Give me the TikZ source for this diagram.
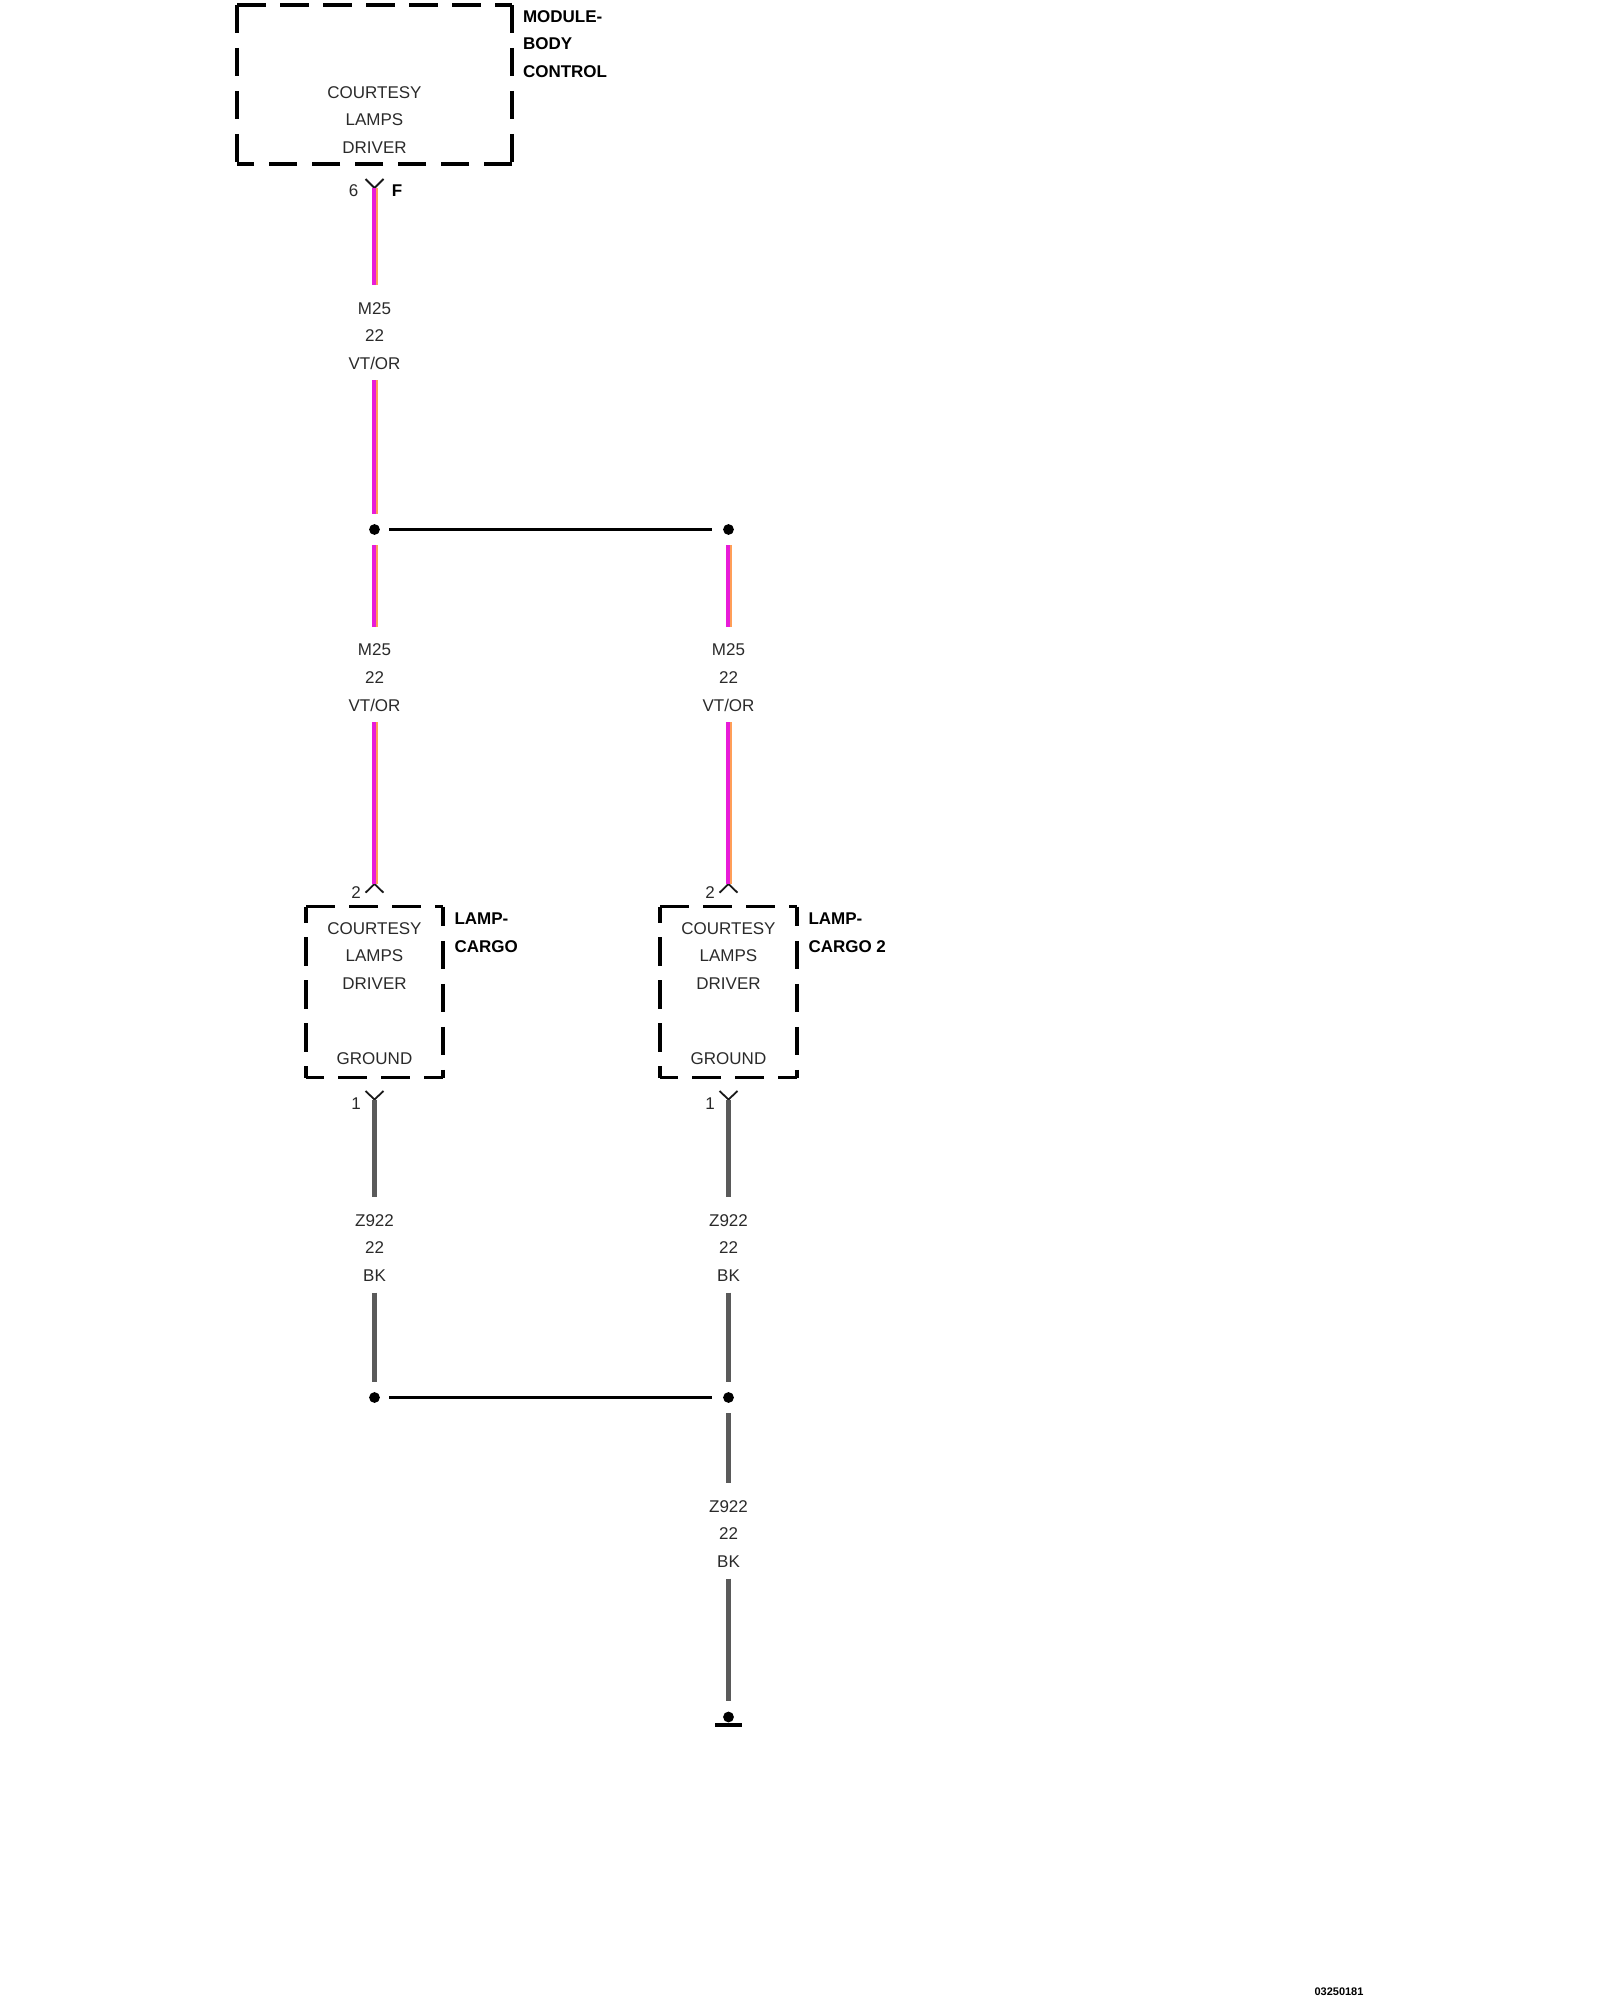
\documentclass[tikz,border=0pt]{standalone}
\usepackage{fontspec}
\setmainfont{Liberation Sans}
\definecolor{txtgray}{HTML}{2A2A2A}
\definecolor{wireviolet}{HTML}{E81CD8}
\definecolor{wireorange}{HTML}{FF9E58}
\definecolor{wireblack}{HTML}{5A5A5A}
\tikzset{
  box side/.style={line width=1.75pt,draw=black,dash pattern=on 14.25pt off 7.25pt,line cap=butt},
  plain text/.style={font=\fontsize{8.5}{13.85}\selectfont,text=txtgray,align=center,inner sep=0pt,outer sep=0pt},
  title text/.style={font=\bfseries\fontsize{8.5}{13.85}\selectfont,text=black,align=left,inner sep=0pt,outer sep=0pt,anchor=west},
  pin text/.style={font=\fontsize{8.5}{10}\selectfont,text=txtgray,inner sep=0pt,outer sep=0pt},
  wire label/.style={plain text,minimum height=44.5pt,minimum width=30pt},
  junction/.style={circle,fill=black,inner sep=0pt,minimum size=5.4pt,outer sep=0pt},
  violet core/.style={line width=2pt,draw=wireviolet,transform canvas={xshift=-0.25pt}},
  orange stripe/.style={line width=1.2pt,draw=wireorange,transform canvas={xshift=1.1pt}},
  black wire/.style={line width=2.85pt,draw=wireblack},
  thin link/.style={line width=1.05pt,draw=black},
  pin mark/.style={line width=0.9pt,draw=black!90},
  label top/.style={shorten >=3.25pt},
  from junction/.style={shorten <=5.1pt},
  to junction/.style={shorten >=5.1pt},
}
\newcommand{\vtwire}[3]{%
  \draw[orange stripe,#1] (#2) -- (#3);
  \draw[violet core,#1] (#2) -- (#3);
}
\begin{document}
\begin{tikzpicture}[x=0.5pt,y=-0.5pt]
\useasboundingbox (0,0) rectangle (1600,2000);
% module box
\coordinate (mTL) at (237,5); \coordinate (mTR) at (512,5);
\coordinate (mBL) at (237,164); \coordinate (mBR) at (512,164);
\draw[box side] (mTL) -- (mTR);
\draw[box side] (mTL) -- (mBL);
\draw[box side] (mTR) -- (mBR);
\draw[box side] (mBR) -- (mBL);
\node[plain text] (mInner) at (374.5,120) {COURTESY\\LAMPS\\DRIVER};
\node[title text] (mTitle) at (523,44) {MODULE-\\BODY\\CONTROL};
% cargo boxes
\foreach \b/\dx in {a/0,b/354}{
  \coordinate (\b TL) at (306+\dx,906.7); \coordinate (\b TR) at (443+\dx,906.7);
  \coordinate (\b BL) at (306+\dx,1077.5); \coordinate (\b BR) at (443+\dx,1077.5);
  \draw[box side] (\b TL) -- (\b TR);
  \draw[box side,dash phase=6.2pt] (\b TL) -- (\b BL);
  \draw[box side,dash phase=4.4pt] (\b TR) -- (\b BR);
  \draw[box side,dash phase=5.5pt] (\b BL) -- (\b BR);
  \node[plain text] (\b Inner) at (374.5+\dx,956) {COURTESY\\LAMPS\\DRIVER};
  \node[plain text] (\b Ground) at (374.5+\dx,1058.5) {GROUND};
  \node[pin text] (\b TopPin) at (356+\dx,892.5) {2};
  \node[pin text] (\b BotPin) at (356+\dx,1103.5) {1};
  \coordinate (\b TopApex) at (374.5+\dx,884);
  \coordinate (\b TopL) at (365.5+\dx,892.7); \coordinate (\b TopR) at (383.5+\dx,892.7);
  \draw[pin mark] (\b TopL) -- (\b TopApex) -- (\b TopR);
  \coordinate (\b BotApex) at (374.5+\dx,1099.5);
  \coordinate (\b BotL) at (365.5+\dx,1091); \coordinate (\b BotR) at (383.5+\dx,1091);
  \draw[pin mark] (\b BotL) -- (\b BotApex) -- (\b BotR);
}
\node[title text] (aTitle) at (454.5,932.5) {LAMP-\\CARGO};
\node[title text] (bTitle) at (808.5,932.5) {LAMP-\\CARGO 2};
% module pin
\coordinate (mApex) at (374.5,188);
\coordinate (mPinL) at (365.5,179); \coordinate (mPinR) at (383.5,179);
\draw[pin mark] (mPinL) -- (mApex) -- (mPinR);
\node[pin text] (mPin) at (353.5,190.5) {6};
\node[pin text,font=\bfseries\fontsize{8.5}{10}\selectfont,text=black] (mPinF) at (397,190.5) {F};
% junctions
\node[junction] (j1) at (374.5,529.5) {};
\node[junction] (j2) at (728.5,529.5) {};
\node[junction] (j3) at (374.5,1397.5) {};
\node[junction] (j4) at (728.5,1397.5) {};
\node[junction] (g) at (728.5,1717) {};
\coordinate (gL) at (715,1725); \coordinate (gR) at (742,1725);
\draw[line width=1.8pt,draw=black] (gL) -- (gR);
\draw[thin link,shorten <=4.6pt,shorten >=5.6pt] (j1) -- (j2);
\draw[thin link,shorten <=4.6pt,shorten >=5.6pt] (j3) -- (j4);
% wire labels
\node[wire label] (w1) at (374.5,336) {M25\\22\\VT/OR};
\node[wire label] (w2) at (374.5,677.5) {M25\\22\\VT/OR};
\node[wire label] (w3) at (728.5,677.5) {M25\\22\\VT/OR};
\node[wire label] (w4) at (374.5,1248) {Z922\\22\\BK};
\node[wire label] (w5) at (728.5,1248) {Z922\\22\\BK};
\node[wire label] (w6) at (728.5,1534) {Z922\\22\\BK};
% wires
\vtwire{label top}{mApex}{w1.north}
\vtwire{to junction}{w1.south}{j1}
\vtwire{from junction,label top}{j1}{w2.north}
\vtwire{from junction,label top}{j2}{w3.north}
\vtwire{}{w2.south}{aTopApex}
\vtwire{}{w3.south}{bTopApex}
\draw[black wire,label top] (aBotApex) -- (w4.north);
\draw[black wire,label top] (bBotApex) -- (w5.north);
\draw[black wire,to junction] (w4.south) -- (j3);
\draw[black wire,to junction] (w5.south) -- (j4);
\draw[black wire,from junction,label top] (j4) -- (w6.north);
\draw[black wire,to junction] (w6.south) -- (g);
% footer
\node[inner sep=0pt,font=\bfseries\fontsize{5.5}{7}\selectfont,text=black] (code) at (1339,1992) {03250181};
\end{tikzpicture}
\end{document}
